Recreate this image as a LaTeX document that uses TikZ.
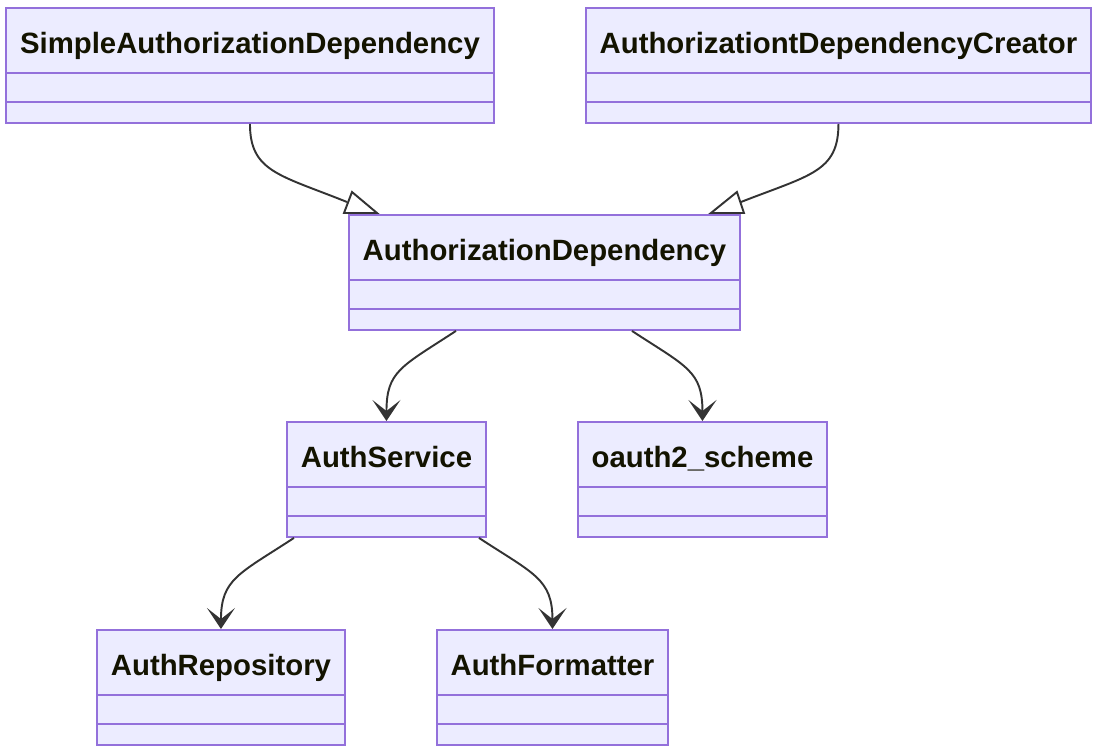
\documentclass[tikz,border=0pt]{standalone}
\usepackage{fontspec}
\setmainfont{Liberation Sans}
\usetikzlibrary{arrows.meta,calc}
\definecolor{classfill}{HTML}{ECECFF}
\definecolor{classborder}{HTML}{9370DB}
\definecolor{edgegray}{HTML}{333333}
\definecolor{titletext}{HTML}{131300}
\tikzset{
  >={Stealth[length=4.2mm,width=5.6mm,inset=2.2mm]},
}
\tikzstyle{classbox}=[draw=classborder,fill=classfill,line width=1.1pt,inner sep=0pt,minimum height=2.3cm,anchor=north west]
\tikzstyle{classtitle}=[font=\fontsize{16.7}{20}\selectfont\bfseries,text=titletext,anchor=base]
\tikzstyle{divider}=[classborder,line width=1.1pt]
\tikzstyle{connector}=[edgegray,line width=1.1pt]
\tikzstyle{dep}=[connector,->]
\tikzstyle{inherit}=[connector,fill=white,line join=miter]
\newcommand{\umlclass}[5]{%
  \node[classbox,minimum width=#4*0.02cm] (#1) at (#2,#3) {};
  \node[classtitle] at ($(#1.north)+(0,46)$) {#5};
  \draw[divider] ($(#1.north west)+(0,66)$) -- ($(#1.north east)+(0,66)$);
  \draw[divider] ($(#1.north west)+(0,95)$) -- ($(#1.north east)+(0,95)$);
}

\begin{document}
\begin{tikzpicture}[x=0.02cm,y=-0.02cm]
    \useasboundingbox (0,0) rectangle (1095,755);
    \umlclass{simpleDep}{5}{7}{488}{SimpleAuthorizationDependency}
    \umlclass{depCreator}{585}{7}{505}{AuthorizationtDependencyCreator}
    \umlclass{authDep}{348}{214}{391}{AuthorizationDependency}
    \umlclass{authService}{286}{421}{199}{AuthService}
    \umlclass{oauthScheme}{577}{421}{249}{oauth2\_scheme}
    \umlclass{authRepo}{96}{629}{248}{AuthRepository}
    \umlclass{authFmt}{436}{629}{231}{AuthFormatter}
    \coordinate (inheritL) at ($(authDep.north west)+(-1,-12)$);
    \coordinate (inheritR) at ($(authDep.north east)+(0,-12)$);
    \draw[connector] (simpleDep.south) .. controls +(0,48) and +(-67,-27) .. (inheritL);
    \draw[inherit] ($(authDep.north west)+(-4,-1)$) -- ($(authDep.north west)+(29,-1)$)
      -- ($(authDep.north west)+(4,-22)$) -- cycle;
    \draw[connector] (depCreator.south) .. controls +(0,48) and +(69,-27) .. (inheritR);
    \draw[inherit] ($(authDep.north east)+(-30,-1)$) -- ($(authDep.north east)+(3,-1)$)
      -- ($(authDep.north east)+(-4,-22)$) -- cycle;
    \draw[dep] ($(authDep.south)+(-88.5,0)$) .. controls +(-55,36) and +(0,-50) .. (authService.north);
    \draw[dep] ($(authDep.south)+(87.5,0)$) .. controls +(55,36) and +(0,-50) .. (oauthScheme.north);
    \draw[dep] ($(authService.south)+(-92.5,0)$) .. controls +(-55,36) and +(0,-50) .. (authRepo.north);
    \draw[dep] ($(authService.south)+(92.5,0)$) .. controls +(55,36) and +(0,-50) .. (authFmt.north);
\end{tikzpicture}
\end{document}
